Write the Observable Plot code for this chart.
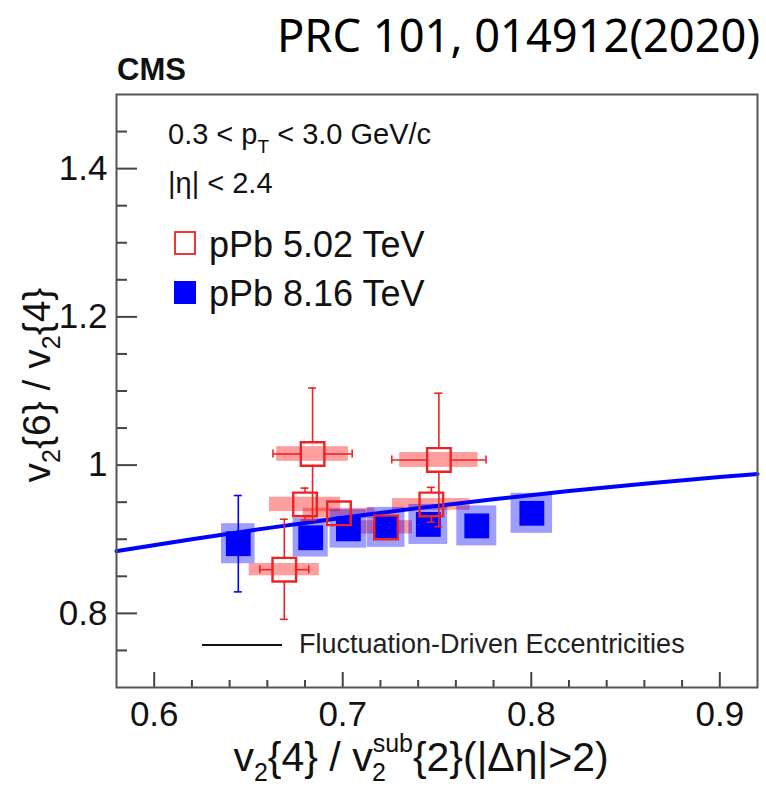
<!DOCTYPE html>
<html><head><meta charset="utf-8">
<script src="https://cdn.jsdelivr.net/npm/d3@7"></script>
<script src="https://cdn.jsdelivr.net/npm/@observablehq/plot@0.6"></script>
<style>html,body{margin:0;padding:0;background:#fff;}</style>
</head><body><div id="chart"></div>
<script>
// ---- data ----
const xMajor = [0.6, 0.7, 0.8, 0.9];
const xMinor = [0.62, 0.64, 0.66, 0.68, 0.72, 0.74, 0.76, 0.78, 0.82, 0.84, 0.86, 0.88];
const yMajor = [0.8, 1.0, 1.2, 1.4];
const yMinor = [0.75, 0.85, 0.9, 0.95, 1.05, 1.1, 1.15, 1.25, 1.3, 1.35, 1.45];

// Fluctuation-driven eccentricities curve
const fluctX = [0.58, 0.62, 0.66, 0.70, 0.74, 0.78, 0.82, 0.86, 0.90, 0.92];
const fluctY = [0.884, 0.900, 0.915, 0.929, 0.942, 0.954, 0.965, 0.975, 0.984, 0.988];

// pPb 5.02 TeV (open red squares)
const p502X    = [0.669, 0.684, 0.680, 0.698, 0.723, 0.751, 0.747];
const p502Y    = [0.859, 1.015, 0.947, 0.935, 0.916, 1.007, 0.947];
const p502ElY  = [0.067, 0.089, 0.021, 0.012, 0.012, 0.090, 0.024];
const p502EhY  = [0.068, 0.089, 0.022, 0.012, 0.012, 0.090, 0.023];
const p502Ex   = [0.013, 0.021, 0.0, 0.0, 0.0, 0.025, 0.0];
const p502SysX = [0.0186, 0.019, 0.0188, 0.019, 0.014, 0.0208, 0.0206];
const p502SysY = [0.0083, 0.0099, 0.0097, 0.0067, 0.009, 0.0101, 0.0079];

// pPb 8.16 TeV (filled blue squares)
const p816X    = [0.6446, 0.683, 0.703, 0.723, 0.7454, 0.7711, 0.8003];
const p816Y    = [0.894, 0.902, 0.914, 0.916, 0.920, 0.918, 0.935];
const p816Ey   = [0.065, 0.010, 0.010, 0.010, 0.010, 0.010, 0.010];
const p816SysX = [0.0089, 0.0093, 0.0097, 0.010, 0.0103, 0.0106, 0.011];
const p816SysY = [0.027, 0.026, 0.026, 0.027, 0.027, 0.027, 0.027];

const W = 766, H = 788, mL = 116, mR = 9, mT = 94, mB = 101;
const pw = W - mL - mR, ph = H - mT - mB;
const xDom = [0.58, 0.92], yDom = [0.7, 1.5];
const RED = "#ee2222", BLUE = "#0000ff", AX = "#444";
const half = 12; // marker half-size in px
const hy = half * (yDom[1] - yDom[0]) / ph;
const hx = half * (xDom[1] - xDom[0]) / pw;

// ---- tables ----
const fluct = fluctX.map((x, i) => ({x, y: fluctY[i]}));
const red = p502X.map((x, i) => ({x, y: p502Y[i], ylo: p502Y[i] - p502ElY[i], yhi: p502Y[i] + p502EhY[i],
  xlo: x - p502Ex[i], xhi: x + p502Ex[i],
  showHi: p502EhY[i] > hy, showLo: p502ElY[i] > hy, showX: p502Ex[i] > hx,
  bx1: x - p502SysX[i], bx2: x + p502SysX[i], by1: p502Y[i] - p502SysY[i], by2: p502Y[i] + p502SysY[i]}));
const blue = p816X.map((x, i) => ({x, y: p816Y[i], ylo: p816Y[i] - p816Ey[i], yhi: p816Y[i] + p816Ey[i],
  show: p816Ey[i] > hy,
  bx1: x - p816SysX[i], bx2: x + p816SysX[i], by1: p816Y[i] - p816SysY[i], by2: p816Y[i] + p816SysY[i]}));

const redHi = red.filter(d => d.showHi), redLo = red.filter(d => d.showLo), redX = red.filter(d => d.showX);
const blueE = blue.filter(d => d.show);
const eb = {stroke: RED, strokeWidth: 1.6};
const ebB = {stroke: BLUE, strokeWidth: 1.6};

const plot = Plot.plot({
  width: W, height: H, marginLeft: mL, marginRight: mR, marginTop: mT, marginBottom: mB,
  x: {domain: xDom},
  y: {domain: yDom},
  style: {fontFamily: "'Liberation Sans', Arial, sans-serif", background: "white", color: "#111"},
  marks: [
    Plot.rect(red, {x1: "bx1", x2: "bx2", y1: "by1", y2: "by2", fill: "#ff0000", fillOpacity: 0.38}),
    Plot.rect(blue, {x1: "bx1", x2: "bx2", y1: "by1", y2: "by2", fill: "#0000ff", fillOpacity: 0.38}),
    Plot.ruleX(blueE, {x: "x", y1: "yhi", y2: "ylo", ...ebB}),
    Plot.ruleY(blueE, {y: "yhi", x1: "x", x2: "x", insetLeft: -4, insetRight: -4, ...ebB}),
    Plot.ruleY(blueE, {y: "ylo", x1: "x", x2: "x", insetLeft: -4, insetRight: -4, ...ebB}),
    Plot.dot(blue, {x: "x", y: "y", symbol: "square", r: 14, fill: BLUE, stroke: "none"}),
    Plot.line(fluct, {x: "x", y: "y", stroke: BLUE, strokeWidth: 4, curve: "monotone-x"}),
    Plot.ruleX(redHi, {x: "x", y1: "yhi", y2: "y", insetBottom: half, ...eb}),
    Plot.ruleY(redHi, {y: "yhi", x1: "x", x2: "x", insetLeft: -4, insetRight: -4, ...eb}),
    Plot.ruleX(redLo, {x: "x", y1: "y", y2: "ylo", insetTop: half, ...eb}),
    Plot.ruleY(redLo, {y: "ylo", x1: "x", x2: "x", insetLeft: -4, insetRight: -4, ...eb}),
    Plot.ruleY(redX, {y: "y", x1: "xlo", x2: "x", insetRight: half, ...eb}),
    Plot.ruleY(redX, {y: "y", x1: "x", x2: "xhi", insetLeft: half, ...eb}),
    Plot.ruleX(redX, {x: "xlo", y1: "y", y2: "y", insetTop: -4, insetBottom: -4, ...eb}),
    Plot.ruleX(redX, {x: "xhi", y1: "y", y2: "y", insetTop: -4, insetBottom: -4, ...eb}),
    Plot.dot(red, {x: "x", y: "y", symbol: "square", r: 13.3, fill: "none", stroke: RED, strokeWidth: 2.4}),
    Plot.ruleX(xMajor, {x: d => d, insetTop: ph - 15, stroke: AX, strokeWidth: 2}),
    Plot.ruleX(xMinor, {x: d => d, insetTop: ph - 7, stroke: AX, strokeWidth: 2}),
    Plot.ruleY(yMajor, {y: d => d, insetRight: pw - 21, stroke: AX, strokeWidth: 2}),
    Plot.ruleY(yMinor, {y: d => d, insetRight: pw - 11, stroke: AX, strokeWidth: 2}),
    Plot.frame({stroke: "#555", strokeWidth: 2}),
    Plot.axisX({ticks: xMajor, tickSize: 0, tickPadding: 14, fontSize: 35, label: null, tickFormat: d => String(d)}),
    Plot.axisY({ticks: yMajor, tickSize: 0, tickPadding: 9, fontSize: 35, label: null, tickFormat: d => String(d)})
  ]
});

document.getElementById("chart").appendChild(plot);
const svg = d3.select(plot);
const F = "'Liberation Sans', Arial, sans-serif";
function txt(x, y, size, anchor = "start") {
  return svg.append("text").attr("x", x).attr("y", y).attr("text-anchor", anchor)
    .attr("font-family", F).attr("font-size", size).attr("fill", "#111");
}

// header texts
svg.append("text").attr("x", 760).attr("y", 52).attr("text-anchor", "end")
  .attr("font-family", "'Noto Sans', 'Open Sans', sans-serif").attr("font-size", 45).attr("fill", "#000")
  .attr("textLength", 483).attr("lengthAdjust", "spacingAndGlyphs")
  .text("PRC 101, 014912(2020)");
txt(117, 80, 31).attr("font-weight", "bold").text("CMS");

// kinematic text
const t1 = txt(168, 144, 29);
t1.append("tspan").text("0.3 < p");
t1.append("tspan").attr("dy", 9).attr("font-size", 19).text("T");
t1.append("tspan").attr("dy", -9).text(" < 3.0 GeV/c");
txt(168, 193, 29).text("|η| < 2.4");

// legend
svg.append("rect").attr("x", 175).attr("y", 232).attr("width", 20).attr("height", 22)
  .attr("fill", "none").attr("stroke", RED).attr("stroke-width", 1.8);
txt(209, 257, 36).text("pPb 5.02 TeV");
svg.append("rect").attr("x", 174).attr("y", 281).attr("width", 22).attr("height", 23).attr("fill", BLUE);
txt(209, 306, 36).text("pPb 8.16 TeV");

svg.append("line").attr("x1", 202).attr("x2", 282).attr("y1", 645).attr("y2", 645)
  .attr("stroke", "#111").attr("stroke-width", 2.2);
txt(299, 653, 27).attr("fill", "#222").text("Fluctuation-Driven Eccentricities");

// x axis title (super/subscripts as separate tspans)
const xl = txt(421, 771, 41, "middle");
xl.append("tspan").text("v");
xl.append("tspan").attr("dy", 10).attr("font-size", 25).text("2");
xl.append("tspan").attr("dy", -10).text("{4} / v");
xl.append("tspan").attr("dy", -19).attr("font-size", 25).text("sub");
xl.append("tspan").attr("dx", -41).attr("dy", 29).attr("font-size", 25).text("2");
xl.append("tspan").attr("dx", 27).attr("dy", -10).text("{2}(|Δη|>2)");

// y axis title
const yl = svg.append("text").attr("transform", "translate(50,385) rotate(-90)").attr("text-anchor", "middle")
  .attr("font-family", F).attr("font-size", 39).attr("fill", "#111");
yl.append("tspan").text("v");
yl.append("tspan").attr("dy", 10).attr("font-size", 25).text("2");
yl.append("tspan").attr("dy", -10).text("{6} / v");
yl.append("tspan").attr("dy", 10).attr("font-size", 25).text("2");
yl.append("tspan").attr("dy", -10).text("{4}");
</script></body></html>
